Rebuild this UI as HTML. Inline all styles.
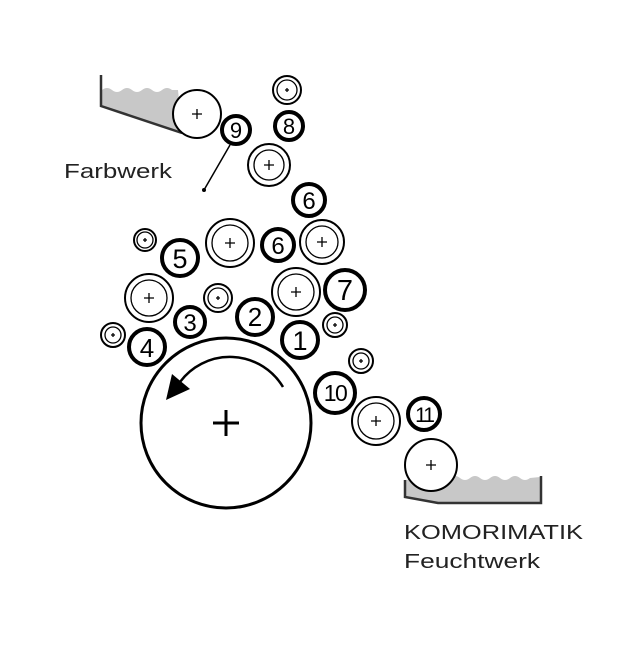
<!DOCTYPE html>
<html><head><meta charset="utf-8"><style>html,body{margin:0;padding:0;background:#fff}</style></head><body>
<svg width="641" height="640" viewBox="0 0 641 640" xmlns="http://www.w3.org/2000/svg" font-family="Liberation Sans, sans-serif">
<!-- ink tray -->
<path d="M102,90 Q107,86 112,90 Q117,94 122,90 Q127,86 132,90 Q137,94 142,90 Q147,86 152,90 Q157,94 162,90 Q167,86 172,90 L178,90 L182,132 L102,106 Z" fill="#c8c8c8"/>
<path d="M101,75 L101,106 L182,133" fill="none" stroke="#333" stroke-width="2.5"/>
<!-- water tray -->
<path d="M405,480 L420,478 Q425,474 430,478 L450,478 Q455,474 460,478 Q465,482 470,478 Q475,474 480,478 Q485,482 490,478 Q495,474 500,478 Q505,482 510,478 Q515,474 520,478 Q525,482 530,478 L540,477 L540,503 L438,503 L405,497 Z" fill="#c8c8c8"/>
<path d="M405,480 L405,497 L438,503 L541,503 L541,476" fill="none" stroke="#333" stroke-width="2.5"/>
<g fill="#fff" stroke="#000" stroke-width="2">
<circle cx="197" cy="114" r="24"/>
<circle cx="431" cy="465" r="26"/>
<circle cx="226" cy="423" r="85" stroke-width="3"/>
</g>
<g fill="#fff" stroke="#000" stroke-width="2">
<circle cx="287" cy="90" r="14"/><circle cx="287" cy="90" r="10" stroke-width="1.3"/>
<circle cx="269" cy="165" r="21"/><circle cx="269" cy="165" r="15" stroke-width="1.3"/>
<circle cx="145" cy="240" r="11"/><circle cx="145" cy="240" r="8" stroke-width="1.3"/>
<circle cx="230" cy="243" r="24"/><circle cx="230" cy="243" r="18" stroke-width="1.3"/>
<circle cx="322" cy="242" r="22"/><circle cx="322" cy="242" r="16" stroke-width="1.3"/>
<circle cx="149" cy="298" r="24"/><circle cx="149" cy="298" r="18" stroke-width="1.3"/>
<circle cx="218" cy="298" r="14"/><circle cx="218" cy="298" r="10" stroke-width="1.3"/>
<circle cx="296" cy="292" r="24"/><circle cx="296" cy="292" r="18" stroke-width="1.3"/>
<circle cx="335" cy="325" r="12"/><circle cx="335" cy="325" r="8" stroke-width="1.3"/>
<circle cx="113" cy="335" r="12"/><circle cx="113" cy="335" r="8" stroke-width="1.3"/>
<circle cx="361" cy="361" r="12"/><circle cx="361" cy="361" r="8" stroke-width="1.3"/>
<circle cx="376" cy="421" r="24"/><circle cx="376" cy="421" r="18" stroke-width="1.3"/>
</g>
<g stroke="#000" stroke-width="1.3">
<path d="M192,114h10M197,109v10"/>
<path d="M426,465h10M431,460v10"/>
<path d="M264,165h10M269,160v10"/>
<path d="M225,243h10M230,238v10"/>
<path d="M317,242h10M322,237v10"/>
<path d="M144,298h10M149,293v10"/>
<path d="M291,292h10M296,287v10"/>
<path d="M371,421h10M376,416v10"/>
<path d="M285,90h4M287,88v4M143,240h4M145,238v4M216,298h4M218,296v4M333,325h4M335,323v4M111,335h4M113,333v4M359,361h4M361,359v4"/>
<path d="M213,423h26M226,410v26" stroke-width="3"/>
</g>
<g fill="#fff" stroke="#000" stroke-width="4">
<circle cx="236" cy="130" r="14"/>
<circle cx="289" cy="126" r="14"/>
<circle cx="309" cy="200" r="16"/>
<circle cx="180" cy="258" r="18"/>
<circle cx="278" cy="245" r="16"/>
<circle cx="345" cy="290" r="20"/>
<circle cx="255" cy="317" r="18"/>
<circle cx="190" cy="322" r="15"/>
<circle cx="300" cy="340" r="18"/>
<circle cx="147" cy="347" r="18"/>
<circle cx="335" cy="393" r="20"/>
<circle cx="424" cy="414" r="16"/>
</g>
<g font-size="24" text-anchor="middle" fill="#000">
<text x="236" y="138" font-size="22">9</text>
<text x="289" y="134" font-size="22">8</text>
<text x="309" y="209">6</text>
<text x="180" y="268" font-size="27">5</text>
<text x="278" y="254">6</text>
<text x="345" y="300" font-size="29">7</text>
<text x="255" y="326" font-size="26">2</text>
<text x="190" y="331">3</text>
<text x="300" y="350" font-size="27">1</text>
<text x="147" y="357" font-size="26">4</text>
<text x="335" y="401" font-size="23" letter-spacing="-1.5">10</text>
<text x="424" y="422" font-size="21" letter-spacing="-2">11</text>
</g>
<line x1="230" y1="145" x2="204" y2="190" stroke="#000" stroke-width="1.5"/>
<circle cx="204" cy="190" r="2" fill="#000"/>
<path d="M283,387 A62,62 0 0 0 180,382" fill="none" stroke="#000" stroke-width="2.5"/>
<path d="M166,400 L172,374 L190,389 Z" fill="#000"/>
<g fill="#222" font-size="20">
<text x="64" y="178" textLength="108" lengthAdjust="spacingAndGlyphs">Farbwerk</text>
<text x="404" y="539" textLength="179" lengthAdjust="spacingAndGlyphs">KOMORIMATIK</text>
<text x="404" y="568" textLength="136" lengthAdjust="spacingAndGlyphs">Feuchtwerk</text>
</g>
</svg>
</body></html>
